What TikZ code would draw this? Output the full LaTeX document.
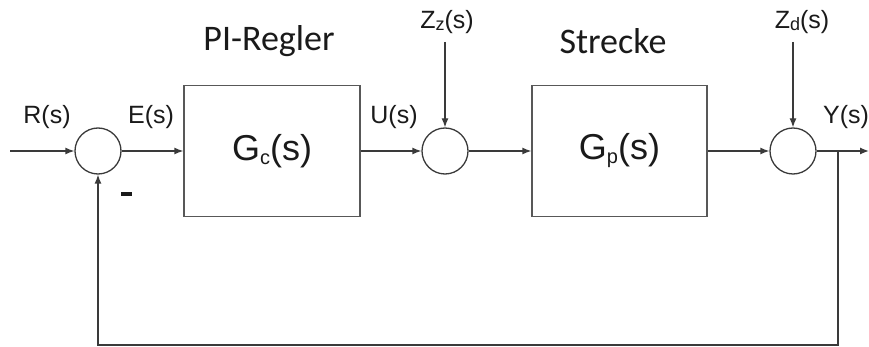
\documentclass[tikz,border=0pt]{standalone}
\usepackage{fontspec}
\setmainfont{Liberation Sans}
\newfontfamily\calib{Carlito}
\usetikzlibrary{arrows.meta}
\definecolor{ln}{HTML}{3A3A3A}
\definecolor{tx}{HTML}{1A1A1A}
\newcommand{\sbs}[1]{{\fontsize{18}{18}\selectfont\raisebox{-0.1em}{#1}}}
\newcommand{\sbb}[1]{{\fontsize{20}{20}\selectfont\raisebox{-0.2em}{#1}}}
\begin{document}
\begin{tikzpicture}[x=1pt,y=-1pt,
  line width=1.3pt, draw=ln,
  arr/.style={draw=ln,-{Latex[length=9pt,width=7pt]}},
  sumnode/.style={circle,draw=ln,minimum size=46pt,inner sep=0pt},
  blk/.style={rectangle,draw=ln!85,minimum width=176pt,minimum height=131pt,inner sep=0pt,font=\fontsize{36}{36}\selectfont,text=tx},
  lbl/.style={font=\fontsize{25}{25}\selectfont,text=tx,inner sep=0pt},
  ttl/.style={font=\calib\fontsize{36}{36}\selectfont,text=tx,inner sep=0pt}]
\useasboundingbox (0,0) rectangle (869,347);
\node[sumnode] (s1) at (98,151) {};
\node[blk] (gc) at (272,151) {G\sbb{c}(s)};
\node[sumnode] (s2) at (445,151) {};
\node[blk,minimum width=175pt] (gp) at (619.5,151) {G\sbb{p}(s)};
\node[sumnode] (s3) at (793,151) {};
\coordinate (in) at (10,151);
\coordinate (out) at (869,151);
\coordinate (br) at (838,151);
\coordinate (bot) at (98,345);
\coordinate (zz) at (445,42);
\coordinate (zd) at (793,42);
\draw[arr] (in) -- (s1);
\draw[arr] (s1) -- (gc);
\draw[arr] (gc) -- (s2);
\draw[arr] (s2) -- (gp);
\draw[arr] (gp) -- (s3);
\draw[arr] (s3) -- (out);
\draw[arr] (zz) -- (s2);
\draw[arr] (zd) -- (s3);
\draw[arr] (br) |- (bot) -- (s1);
\node[lbl] (lr) at (47,117) {R(s)};
\node[lbl] (le) at (151,117) {E(s)};
\node[lbl] (lu) at (394,117) {U(s)};
\node[lbl] (ly) at (846,117) {Y(s)};
\node[lbl] (lzz) at (447,22) {Z\sbs{z}(s)};
\node[lbl] (lzd) at (802,22) {Z\sbs{d}(s)};
\node[ttl] (pi) at (269,41) {PI-Regler};
\node[ttl] (st) at (613,41) {Strecke};
\node[fill=tx,minimum width=11pt,minimum height=3.5pt,inner sep=0pt] (minus) at (126,194) {};
\end{tikzpicture}
\end{document}
